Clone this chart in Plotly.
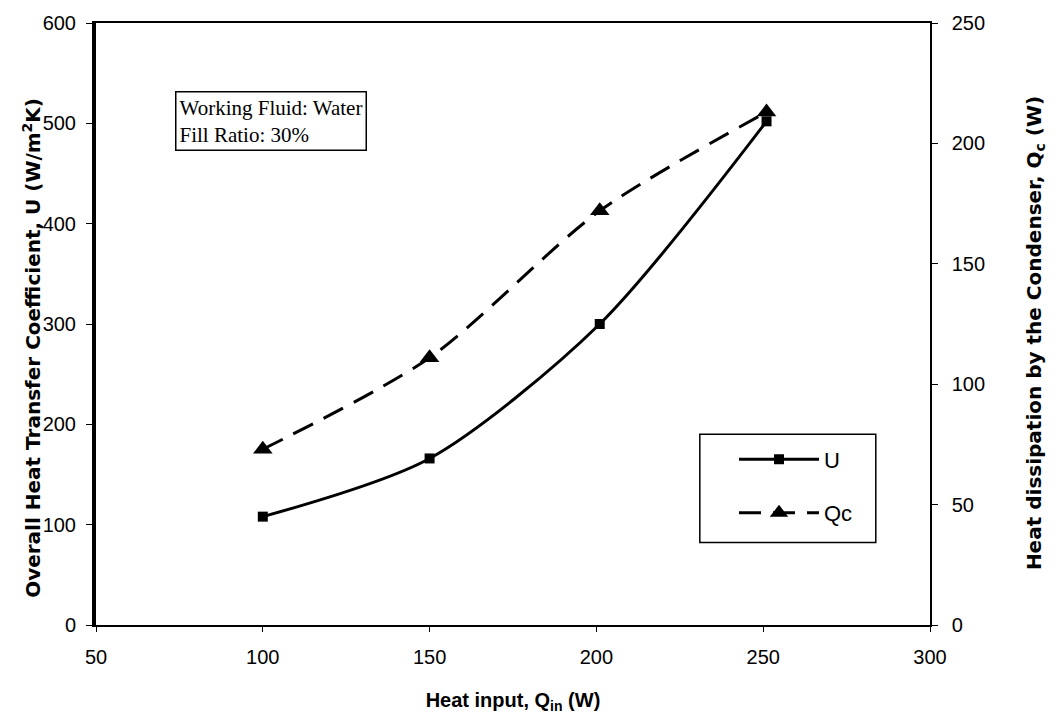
import plotly.graph_objects as go

# Heat input (W)
heat_input = [100, 150, 201, 251]
# Overall heat transfer coefficient U (W/m2K)
u_values = [108, 166, 300, 502]
# Heat dissipated by the condenser Qc (W)
qc_values = [73, 111, 172, 213]

left_ticks = [0, 100, 200, 300, 400, 500, 600]
right_ticks = [0, 50, 100, 150, 200, 250]
x_ticks = [50, 100, 150, 200, 250, 300]

fig = go.Figure()

fig.add_trace(go.Scatter(
    x=heat_input, y=u_values, name="U", mode="lines+markers", legendgroup="u",
    line=dict(color="black", width=3, shape="spline", smoothing=0.8),
    marker=dict(symbol="square", size=10, color="black"),
    yaxis="y",
))
fig.add_trace(go.Scatter(
    x=heat_input, y=qc_values, name="Qc", mode="lines+markers", legendgroup="qc",
    line=dict(color="black", width=3, dash="22px,12px", shape="spline", smoothing=0.8),
    marker=dict(symbol="triangle-up", size=17, color="black"),
    yaxis="y2",
))

tick_font = dict(family="Liberation Sans, Arial", size=20, color="black")
title_font = dict(family="DejaVu Sans, Arial", size=20, color="black")

fig.update_layout(
    width=1061, height=721,
    margin=dict(l=96, r=131, t=17, b=96),
    paper_bgcolor="white", plot_bgcolor="white",
    showlegend=True,
    xaxis=dict(
        range=[50, 300], tickvals=x_ticks, showgrid=False, zeroline=False,
        showline=True, linecolor="black", linewidth=1.5, mirror=True,
        ticks="outside", ticklen=5, tickcolor="black",
        ticklabelstandoff=8,
        tickfont=tick_font,
        title=dict(text="<b>Heat input, Q<sub>in</sub> (W)</b>",
                   font=dict(family="Liberation Sans, Arial", size=20, color="black"),
                   standoff=26),
    ),
    yaxis=dict(
        range=[0, 600], tickvals=left_ticks, showgrid=False, zeroline=False,
        showline=True, linecolor="black", linewidth=4,
        ticks="outside", ticklen=6, tickcolor="black",
        ticklabelstandoff=6,
        tickfont=tick_font,
    ),
    yaxis2=dict(
        range=[0, 250], tickvals=right_ticks, overlaying="y", side="right",
        showgrid=False, zeroline=False,
        showline=True, linecolor="black", linewidth=1.5,
        ticks="outside", ticklen=6, tickcolor="black",
        ticklabelstandoff=10,
        tickfont=tick_font,
    ),
    legend=dict(
        x=0.765, y=0.31, xanchor="left", yanchor="top",
        bgcolor="rgba(0,0,0,0)", borderwidth=0,
        font=dict(family="Liberation Sans, Arial", size=22, color="black"),
        itemwidth=80, tracegroupgap=22,
    ),
    shapes=[
        dict(type="rect", xref="paper", yref="paper",
             x0=0.724, x1=0.935, y0=0.137, y1=0.317,
             line=dict(color="black", width=1.5), fillcolor="rgba(0,0,0,0)"),
    ],
    annotations=[
        dict(text="Working Fluid: Water<br>Fill Ratio: 30%",
             xref="paper", yref="paper", x=0.095, y=0.887,
             xanchor="left", yanchor="top", align="left", showarrow=False,
             font=dict(family="Liberation Serif, Times New Roman", size=21, color="black"),
             bordercolor="black", borderwidth=1.5, borderpad=3, bgcolor="white"),
        # Vertical axis titles, placed as rotated annotations
        dict(text="<b>Overall Heat Transfer Coefficient, U (W/m<sup>2</sup>K)</b>",
             xref="paper", yref="paper", x=-0.077, y=0.46,
             xanchor="center", yanchor="middle", textangle=-90, showarrow=False,
             font=title_font),
        dict(text="<b>Heat dissipation by the Condenser, Q<sub>c</sub> (W)</b>",
             xref="paper", yref="paper", x=1.126, y=0.485,
             xanchor="center", yanchor="middle", textangle=-90, showarrow=False,
             font=title_font),
    ],
)

fig.write_html("out.html")
